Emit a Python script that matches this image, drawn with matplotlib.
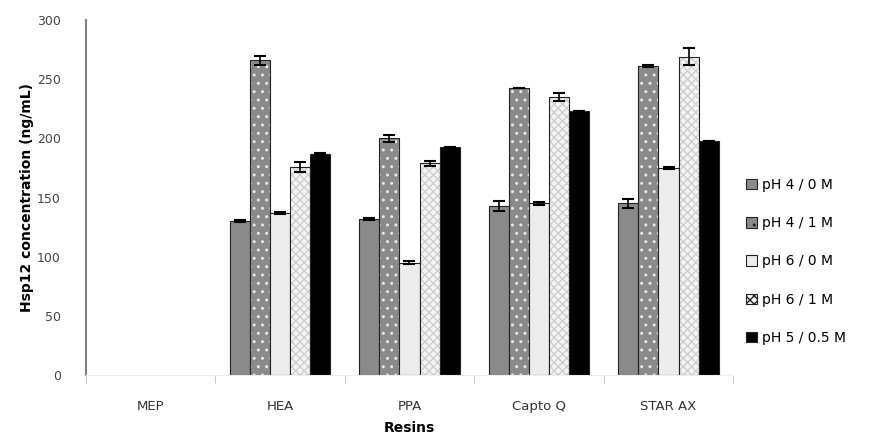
import matplotlib.pyplot as plt
import numpy as np

# Resins and conditions
resins = ["MEP", "HEA", "PPA", "Capto Q", "STAR AX"]
conditions = ["pH 4 / 0 M", "pH 4 / 1 M", "pH 6 / 0 M", "pH 6 / 1 M", "pH 5 / 0.5 M"]

# Hsp12 concentration (ng/mL) per condition, one value per resin
ph4_0m = [0, 130, 132, 143, 145]
ph4_1m = [0, 266, 200, 243, 261]
ph6_0m = [0, 137, 95, 145, 175]
ph6_1m = [0, 176, 179, 235, 269]
ph5_05m = [0, 187, 193, 223, 198]

# error bars
err_ph4_0m = [0, 1, 1, 4, 4]
err_ph4_1m = [0, 4, 3, 0, 1]
err_ph6_0m = [0, 1, 1, 1, 1]
err_ph6_1m = [0, 4, 2, 3, 7]
err_ph5_05m = [0, 1, 0, 0, 0]

series = [ph4_0m, ph4_1m, ph6_0m, ph6_1m, ph5_05m]
errors = [err_ph4_0m, err_ph4_1m, err_ph6_0m, err_ph6_1m, err_ph5_05m]

# fill colour, hatch, hatch colour
styles = [
    ("#8a8a8a", None, None),
    ("#8a8a8a", "..", "#e6e6e6"),
    ("#ececec", None, None),
    ("#f4f4f4", "xxxx", "#cfcfcf"),
    ("#000000", None, None),
]

fig = plt.figure(figsize=(8.74, 4.37), dpi=100)
ax = fig.add_axes([0.098, 0.142, 0.741, 0.812])

x = np.arange(len(resins))
width = 0.155
handles = []
for i, (vals, errs, (fc, hatch, hc)) in enumerate(zip(series, errors, styles)):
    vals = np.array(vals, dtype=float)
    errs = np.array(errs, dtype=float)
    keep = vals > 0  # MEP has no bars
    pos = (x + (i - 2) * width)[keep]
    v = vals[keep]
    if hatch:
        ax.bar(pos, v, width, color=fc, hatch=hatch, edgecolor=hc, linewidth=0)
        ax.bar(pos, v, width, facecolor="none", edgecolor="#222222", linewidth=0.8)
    else:
        ax.bar(pos, v, width, color=fc, edgecolor="#222222", linewidth=0.8)
    ax.errorbar(pos, v, yerr=errs[keep], fmt="none", ecolor="black",
                elinewidth=1.2, capsize=4, capthick=1.5)
    h = plt.Rectangle((0, 0), 1, 1, facecolor=fc, edgecolor="#222222",
                      hatch=hatch, linewidth=0.8)
    handles.append(h)

ax.set_xlim(-0.5, len(resins) - 0.5)
ax.set_ylim(0, 300)
ax.set_yticks(range(0, 301, 50))
ax.set_xticks(x)
ax.set_xticklabels(resins, fontsize=9.5, color="#333333")
ax.tick_params(axis="x", length=0, pad=18)
ax.tick_params(axis="y", length=0, labelsize=9, labelcolor="#444444", pad=18)

# category separator ticks
ax.set_xticks(np.arange(-0.5, len(resins), 1.0), minor=True)
ax.tick_params(axis="x", which="minor", length=6, color="#bbbbbb")

for s in ["top", "right"]:
    ax.spines[s].set_visible(False)
ax.spines["left"].set_color("#808080")
ax.spines["left"].set_linewidth(1.5)
ax.spines["bottom"].set_color("#eeeeee")

ax.set_xlabel("Resins", fontsize=10, fontweight="bold", labelpad=6)
ax.set_ylabel("Hsp12 concentration (ng/mL)", fontsize=10, fontweight="bold", labelpad=2)

ax.legend(handles, conditions, loc="center left", bbox_to_anchor=(1.0, 0.32),
          frameon=False, fontsize=10, labelspacing=1.75, handlelength=0.8,
          handleheight=0.8, handletextpad=0.4)

fig.savefig("out.png", dpi=100)
